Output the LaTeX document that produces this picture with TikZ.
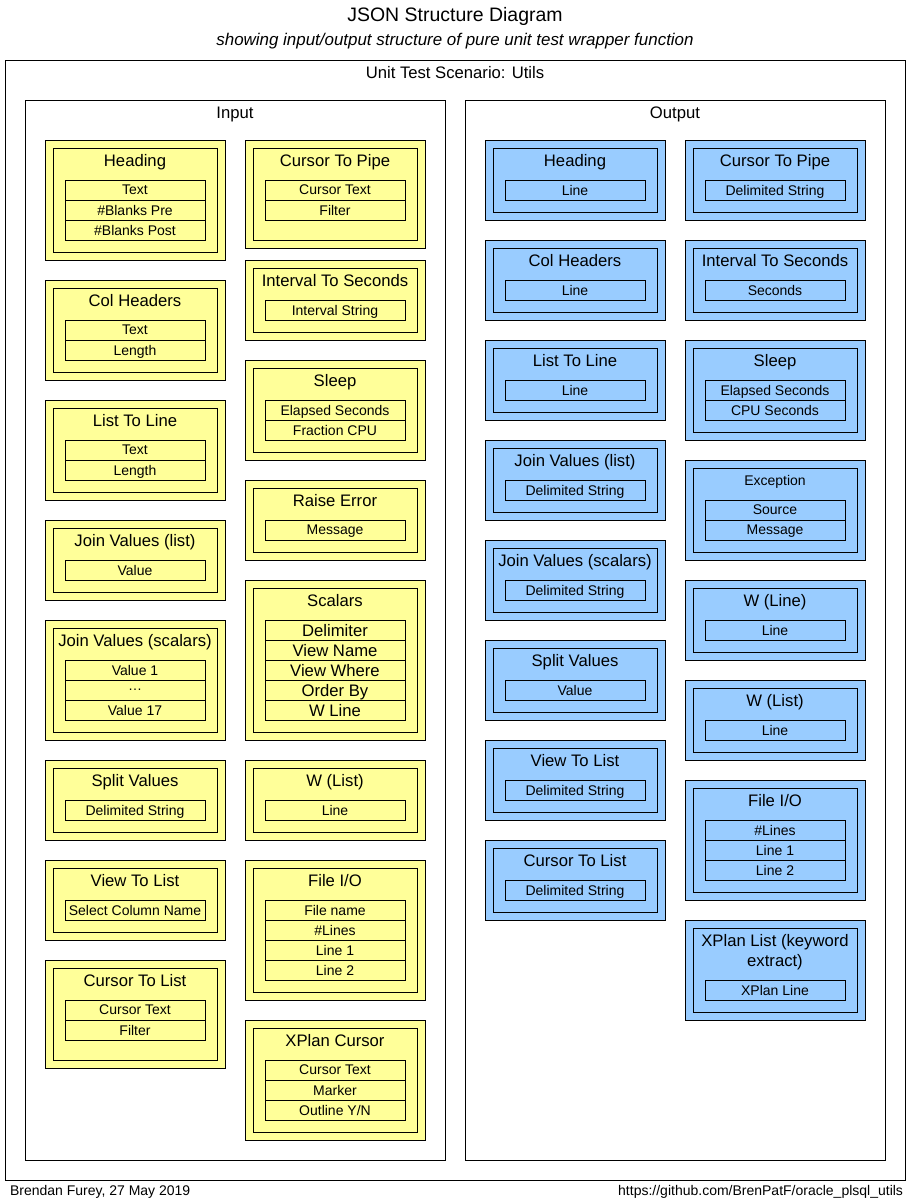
\documentclass[tikz,border=0pt]{standalone}
\usepackage{fontspec}
\setmainfont{Liberation Sans}
\usepackage{tikz}
\usetikzlibrary{calc}

\definecolor{inyellow}{HTML}{FFFF99}
\definecolor{outblue}{HTML}{99CCFF}

\newcommand{\smallsz}{\fontsize{10.5pt}{12.6pt}\selectfont}
\newcommand{\bigsz}{\fontsize{12.5pt}{15pt}\selectfont}

% one structure box: [fields offset]{name}{style}{x,y}{height}{title}{fields}
\newcommand{\jsonbox}[7][40]{%
  \node[#3, minimum height={#5*0.75pt}] (#2) at (#4) {};
  \node[innerbox, minimum height={(#5-16)*0.75pt}] (#2-in) at (#2.center) {};
  \node[boxtitle] (#2-title) at ($(#2.north)+(0,#1/2)$) {#6};
  \foreach \f [count=\i] in {#7}
    \node[field] (#2-\i) at ($(#2.north)+(0,#1+20*\i-10)$) {\f};
}

\begin{document}
\begin{tikzpicture}[x=0.75pt, y=-0.75pt, line width=0.75pt,
    every node/.style={font=\smallsz, text depth=0pt, outer sep=0pt},
    frame/.style={rectangle, draw, anchor=north west},
    inbox/.style={rectangle, draw, fill=inyellow, anchor=north west, minimum width=135pt},
    outbox/.style={rectangle, draw, fill=outblue, anchor=north west, minimum width=135pt},
    innerbox/.style={rectangle, draw, minimum width=123pt},
    boxtitle/.style={font=\bigsz, align=center},
    field/.style={rectangle, draw, minimum width=105pt, minimum height=15pt, inner sep=0pt},
    heading/.style={font=\bigsz}
]
\useasboundingbox (0,0) rectangle (911,1199);

\node[font=\fontsize{14.6pt}{17pt}\selectfont] (title) at (455,14.5) {JSON Structure Diagram};
\node[font=\fontsize{12.7pt}{15pt}\selectfont\itshape] (subtitle) at (455,39.5) {showing input/output structure of pure unit test wrapper function};

\node[frame, minimum width=675pt, minimum height=840pt] (scenario) at (5,60) {};
\node[heading] (scenario-title) at ($(scenario.north)+(0,12)$) {Unit Test Scenario: Utils};
\node[frame, minimum width=315pt, minimum height=795pt] (input) at (25,100) {};
\node[heading] (input-title) at ($(input.north)+(0,12.5)$) {Input};
\node[frame, minimum width=315pt, minimum height=795pt] (output) at (465,100) {};
\node[heading] (output-title) at ($(output.north)+(0,12.5)$) {Output};

% input
\jsonbox{inHeading}{inbox}{45,140}{120}{Heading}{Text, \#Blanks Pre, \#Blanks Post}
\jsonbox{inColHdr}{inbox}{45,280}{100}{Col Headers}{Text, Length}
\jsonbox{inListLine}{inbox}{45,400}{100}{List To Line}{Text, Length}
\jsonbox{inJoinList}{inbox}{45,520}{80}{Join Values (list)}{Value}
\jsonbox{inJoinScal}{inbox}{45,620}{120}{Join Values (scalars)}{Value 1, \ldots, Value 17}
\jsonbox{inSplit}{inbox}{45,760}{80}{Split Values}{Delimited String}
\jsonbox{inViewList}{inbox}{45,860}{80}{View To List}{Select Column Name}
\jsonbox{inCurList}{inbox}{45,960}{108}{Cursor To List}{Cursor Text, Filter}

\jsonbox{inCurPipe}{inbox}{245,140}{108}{Cursor To Pipe}{Cursor Text, Filter}
\jsonbox{inIntSec}{inbox}{245,260}{80}{Interval To Seconds}{Interval String}
\jsonbox{inSleep}{inbox}{245,360}{100}{Sleep}{Elapsed Seconds, Fraction CPU}
\jsonbox{inRaise}{inbox}{245,480}{80}{Raise Error}{Message}
\jsonbox{inScalars}{inbox}{245,580}{160}{Scalars}{\bigsz Delimiter, \bigsz View Name, \bigsz View Where, \bigsz Order By, \bigsz W Line}
\jsonbox{inWList}{inbox}{245,760}{80}{W (List)}{Line}
\jsonbox{inFile}{inbox}{245,860}{140}{File I/O}{File name, \#Lines, Line 1, Line 2}
\jsonbox{inXPlan}{inbox}{245,1020}{120}{XPlan Cursor}{Cursor Text, Marker, Outline Y/N}

% output
\jsonbox{outHeading}{outbox}{485,140}{80}{Heading}{Line}
\jsonbox{outColHdr}{outbox}{485,240}{80}{Col Headers}{Line}
\jsonbox{outListLine}{outbox}{485,340}{80}{List To Line}{Line}
\jsonbox{outJoinList}{outbox}{485,440}{80}{Join Values (list)}{Delimited String}
\jsonbox{outJoinScal}{outbox}{485,540}{80}{Join Values (scalars)}{Delimited String}
\jsonbox{outSplit}{outbox}{485,640}{80}{Split Values}{Value}
\jsonbox{outViewList}{outbox}{485,740}{80}{View To List}{Delimited String}
\jsonbox{outCurList}{outbox}{485,840}{80}{Cursor To List}{Delimited String}

\jsonbox{outCurPipe}{outbox}{685,140}{80}{Cursor To Pipe}{Delimited String}
\jsonbox{outIntSec}{outbox}{685,240}{80}{Interval To Seconds}{Seconds}
\jsonbox{outSleep}{outbox}{685,340}{100}{Sleep}{Elapsed Seconds, CPU Seconds}
\jsonbox{outExcept}{outbox}{685,460}{100}{\smallsz Exception}{Source, Message}
\jsonbox{outWLine}{outbox}{685,580}{80}{W (Line)}{Line}
\jsonbox{outWList}{outbox}{685,680}{80}{W (List)}{Line}
\jsonbox{outFile}{outbox}{685,780}{120}{File I/O}{\#Lines, Line 1, Line 2}
\jsonbox[60]{outXPlan}{outbox}{685,920}{100}{XPlan List (keyword\\extract)}{XPlan Line}

\node[anchor=west, inner sep=0pt] (author) at (10,1190) {Brendan Furey, 27 May 2019};
\node[anchor=east, inner sep=0pt] (repo) at (903,1190) {https://github.com/BrenPatF/oracle\_plsql\_utils};
\end{tikzpicture}
\end{document}
